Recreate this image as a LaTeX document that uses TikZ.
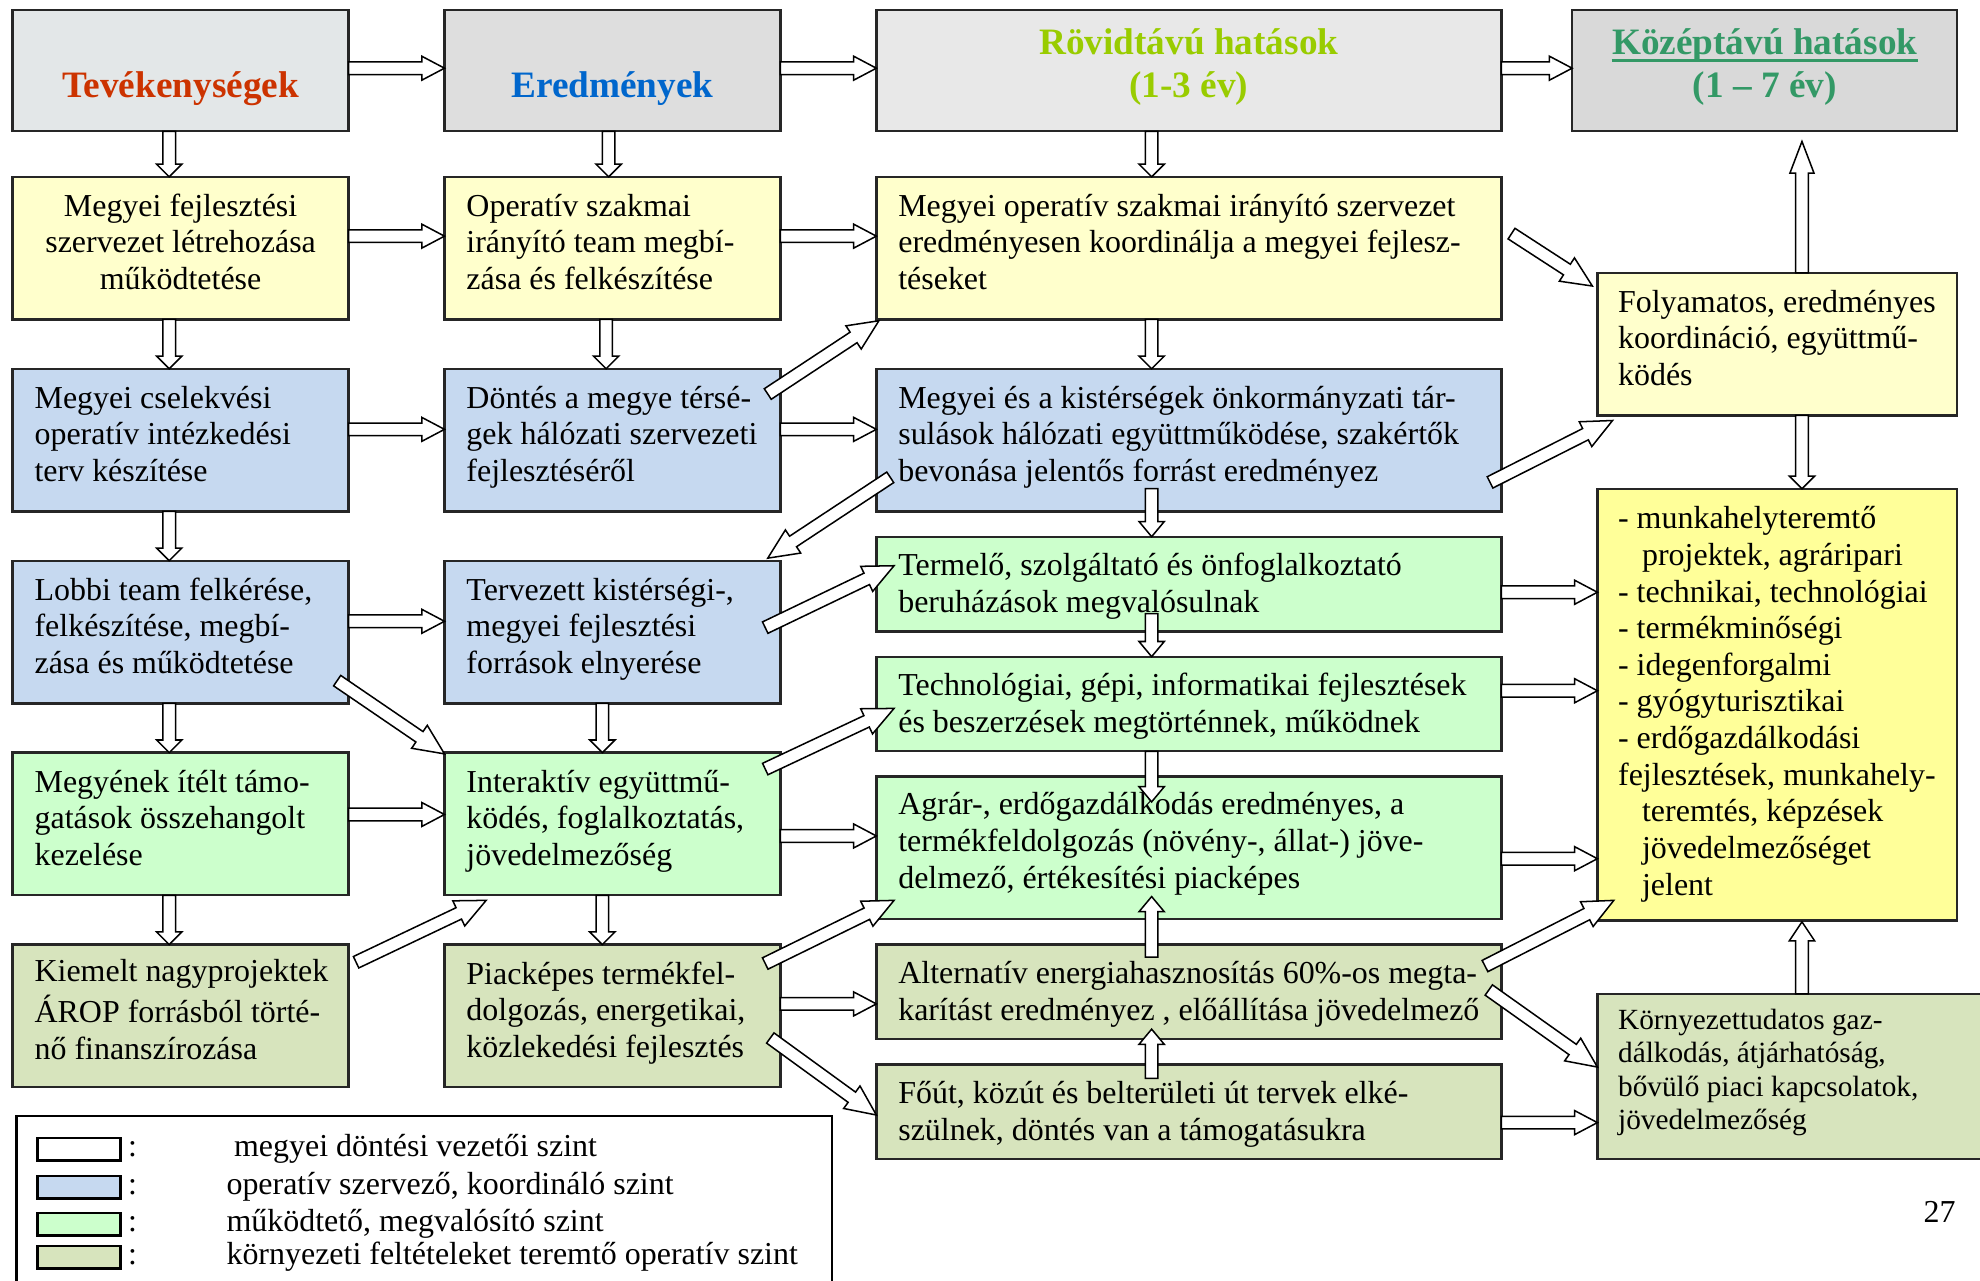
\documentclass[tikz,border=0pt]{standalone}
\usepackage{fontspec}
\setmainfont{Liberation Serif}
\usetikzlibrary{calc}

\definecolor{hdrA}{HTML}{E3E7E8}
\definecolor{hdrB}{HTML}{DEDEDE}
\definecolor{hdrC}{HTML}{E8E8E8}
\definecolor{hdrD}{HTML}{D9D9D9}
\definecolor{ylw}{HTML}{FFFFCC}
\definecolor{ylwB}{HTML}{FFFF99}
\definecolor{blu}{HTML}{C6D9F0}
\definecolor{grn}{HTML}{CCFFCC}
\definecolor{olv}{HTML}{D7E4BD}
\definecolor{tRed}{HTML}{CC3300}
\definecolor{tBlue}{HTML}{0066CC}
\definecolor{tLime}{HTML}{99CC00}
\definecolor{tGreen}{HTML}{339966}

\newcommand\bodyf{\fontsize{12.65pt}{14.5pt}\selectfont}
\newcommand\titlef{\fontsize{14.75pt}{17pt}\selectfont\bfseries}
\newcommand\smallf{\fontsize{11.6pt}{13.3pt}\selectfont}

\tikzset{
  box/.style={draw=black!85, line width=0.9pt, rectangle, outer sep=0pt, inner sep=0pt},
  colbox/.style={box, minimum width=133pt, minimum height=56.5pt},
  widebox/.style={box, minimum width=247.5pt, minimum height=56.5pt},
  slimbox/.style={box, minimum width=247.5pt, minimum height=37.5pt},
  rightbox/.style={box, minimum width=142.5pt},
  txt/.style={anchor=west, inner sep=0pt, align=left, font=\bodyf},
  ttl/.style={anchor=base, inner sep=0pt, font=\titlef},
  blockarrow/.style={draw=black, fill=white, line width=0.6pt, line join=miter},
  swatch/.style={draw=black, line width=0.9pt, minimum width=32.8pt, minimum height=9pt, inner sep=0pt}
}

\newcommand\blkarrow[5]{%
  \coordinate (ba-s) at (#1);
  \coordinate (ba-e) at (#2);
  \coordinate (ba-h) at ($(ba-e)!#5!(ba-s)$);
  \draw[blockarrow] ($(ba-s)!#3!90:(ba-e)$) -- ($(ba-h)!#3!90:(ba-e)$)
    -- ($(ba-h)!#4!90:(ba-e)$) -- (ba-e) -- ($(ba-h)!#4!-90:(ba-e)$)
    -- ($(ba-h)!#3!-90:(ba-e)$) -- ($(ba-s)!#3!-90:(ba-e)$) -- cycle;}
\newcommand\myH[3]{\blkarrow{#1.east |- 0,#3}{#2.west |- 0,#3}{2.5pt}{4.75pt}{9pt}}
\newcommand\myV[3]{\blkarrow{#1.south -| #3,0}{#2.north -| #3,0}{2.5pt}{5pt}{5pt}}
\newcommand\myVV[2]{\blkarrow{#1}{#2}{2.5pt}{5pt}{6pt}}
\newcommand\myD[2]{\blkarrow{#1}{#2}{2.5pt}{5.5pt}{12pt}}

\begin{document}
\begin{tikzpicture}[x=0.5pt,y=-0.5pt]
\useasboundingbox (0,0) rectangle (1568,1014);
\clip (0,0) rectangle (1568,1014);
\fill[white] (0,0) rectangle (1568,1014);

% header row
\node[box, fill=hdrA, minimum width=133pt, minimum height=48pt] (h1) at (143,56) {};
\node[box, fill=hdrB, minimum width=133pt, minimum height=48pt] (h2) at (485,56) {};
\node[box, fill=hdrC, minimum width=247.5pt, minimum height=48pt] (h3) at (941.5,56) {};
\node[box, fill=hdrD, minimum width=152.5pt, minimum height=48pt] (h4) at (1397.5,56) {};
\node[ttl, text=tRed] at (143,77) {Tevékenységek};
\node[ttl, text=tBlue] at (485,77) {Eredmények};
\node[ttl, text=tLime] at (941.5,43) {Rövidtávú hatások};
\node[ttl, text=tLime] at (941.5,77) {(1-3 év)};
\node[ttl, text=tGreen] (kt) at (1397.5,43) {Középtávú hatások};
\draw[tGreen, line width=1.1pt] (kt.base west |- 0,48) -- (kt.base east |- 0,48);
\node[ttl, text=tGreen] at (1397.5,77) {(1 – 7 év)};

% column 1
\node[colbox, fill=ylw] (a1) at (143,196.5) {};
\node[colbox, fill=blu] (a2) at (143,348.5) {};
\node[colbox, fill=blu] (a3) at (143,500.5) {};
\node[colbox, fill=grn] (a4) at (143,652.5) {};
\node[colbox, fill=olv] (a5) at (143,804.5) {};
% column 2
\node[colbox, fill=ylw] (b1) at (485,196.5) {};
\node[colbox, fill=blu] (b2) at (485,348.5) {};
\node[colbox, fill=blu] (b3) at (485,500.5) {};
\node[colbox, fill=grn] (b4) at (485,652.5) {};
\node[colbox, fill=olv] (b5) at (485,804.5) {};
% column 3
\node[widebox, fill=ylw] (c1) at (941.5,196.5) {};
\node[widebox, fill=blu] (c2) at (941.5,348.5) {};
\node[slimbox, fill=grn] (c3) at (941.5,462.5) {};
\node[slimbox, fill=grn] (c4) at (941.5,557.5) {};
\node[widebox, fill=grn] (c5) at (941.5,671.5) {};
\node[slimbox, fill=olv] (c6) at (941.5,785.5) {};
\node[slimbox, fill=olv] (c7) at (941.5,880.5) {};
% column 4
\node[rightbox, fill=ylw, minimum height=56.5pt] (fo) at (1407.5,272.5) {};
\node[rightbox, fill=ylwB, minimum height=171pt] (li) at (1407.5,558) {};
\node[box, fill=olv, minimum width=153.5pt, minimum height=65.5pt] (ko) at (1418.5,852.5) {};

% texts
\node[inner sep=0pt, align=center, font=\bodyf] at ($(a1.center)+(0,-2)$) {\strut Megyei fejlesztési\\szervezet létrehozása\\működtetése\strut};
\node[txt] at ($(a2.west)+(17,-2)$) {\strut Megyei cselekvési\\operatív intézkedési\\terv készítése\strut};
\node[txt] at ($(a3.west)+(17,-2)$) {\strut Lobbi team felkérése,\\felkészítése, megbí-\\zása és működtetése\strut};
\node[txt] at ($(a4.west)+(17,-2)$) {\strut Megyének ítélt támo-\\gatások összehangolt\\kezelése\strut};
\node[txt] at ($(a5.west)+(17,-2)$) {\strut Kiemelt nagyprojektek\\ÁROP forrásból törté-\\nő finanszírozása\strut};

\node[txt] at ($(b1.west)+(17,-2)$) {\strut Operatív szakmai\\irányító team megbí-\\zása és felkészítése\strut};
\node[txt] at ($(b2.west)+(17,-2)$) {\strut Döntés a megye térsé-\\gek hálózati szervezeti\\fejlesztéséről\strut};
\node[txt] at ($(b3.west)+(17,-2)$) {\strut Tervezett kistérségi-,\\megyei fejlesztési\\források elnyerése\strut};
\node[txt] at ($(b4.west)+(17,-2)$) {\strut Interaktív együttmű-\\ködés, foglalkoztatás,\\jövedelmezőség\strut};
\node[txt] at ($(b5.west)+(17,-2)$) {\strut Piacképes termékfel-\\dolgozás, energetikai,\\közlekedési fejlesztés\strut};

\node[txt] at ($(c1.west)+(17,-2)$) {\strut Megyei operatív szakmai irányító szervezet\\eredményesen koordinálja a megyei fejlesz-\\téseket\strut};
\node[txt] at ($(c2.west)+(17,-2)$) {\strut Megyei és a kistérségek önkormányzati tár-\\sulások hálózati együttműködése, szakértők\\bevonása jelentős forrást eredményez\strut};
\node[txt] at ($(c3.west)+(17,2)$) {\strut Termelő, szolgáltató és önfoglalkoztató\\beruházások megvalósulnak\strut};
\node[txt] at ($(c4.west)+(17,2)$) {\strut Technológiai, gépi, informatikai fejlesztések\\és beszerzések megtörténnek, működnek\strut};
\node[txt] at ($(c5.west)+(17,-3)$) {\strut Agrár-, erdőgazdálkodás eredményes, a\\termékfeldolgozás (növény-, állat-) jöve-\\delmező, értékesítési piacképes\strut};
\node[txt] at ($(c6.west)+(17,2)$) {\strut Alternatív energiahasznosítás 60\%-os megta-\\karítást eredményez , előállítása jövedelmező\strut};
\node[txt] at ($(c7.west)+(17,2)$) {\strut Főút, közút és belterületi út tervek elké-\\szülnek, döntés van a támogatásukra\strut};

\node[txt] at ($(fo.west)+(16,-2)$) {\strut Folyamatos, eredményes\\koordináció, együttmű-\\ködés\strut};
\node[txt] at ($(li.west)+(16,0)$) {\strut - munkahelyteremtő\\\hspace*{9.5pt}projektek, agráripari\\- technikai, technológiai\\- termékminőségi\\- idegenforgalmi\\- gyógyturisztikai\\- erdőgazdálkodási\\fejlesztések, munkahely-\\\hspace*{9.5pt}teremtés, képzések\\\hspace*{9.5pt}jövedelmezőséget\\\hspace*{9.5pt}jelent\strut};
\node[txt, font=\smallf] at ($(ko.west)+(16,-3)$) {\strut Környezettudatos gaz-\\dálkodás, átjárhatóság,\\bővülő piaci kapcsolatok,\\jövedelmezőség\strut};

% legend
\node[box, draw=black, fill=white, minimum width=323pt, minimum height=68.5pt] (leg) at (336,952) {};
\node[swatch, fill=white] (s1) at (62.6,910) {};
\node[swatch, fill=blu] (s2) at (62.6,940) {};
\node[swatch, fill=grn] (s3) at (62.6,969.5) {};
\node[swatch, fill=olv] (s4) at (62.6,995.5) {};
\node[txt] at (101,910) {:};
\node[txt] at (101,940) {:};
\node[txt] at (101,969.5) {:};
\node[txt] at (101,995.5) {:};
\node[txt] at (185,910) {megyei döntési vezetői szint};
\node[txt] at (179,940) {operatív szervező, koordináló szint};
\node[txt] at (179,969.5) {működtető, megvalósító szint};
\node[txt] at (179,995.5) {környezeti feltételeket teremtő operatív szint};

\node[inner sep=0pt, font=\bodyf] (pg) at (1536,960) {27};

% arrows: horizontal
\myH{h1}{h2}{54}
\myH{h2}{h3}{54}
\myH{h3}{h4}{54}
\myH{a1}{b1}{187}
\myH{b1}{c1}{187}
\myH{a2}{b2}{340}
\myH{b2}{c2}{340}
\myH{a3}{b3}{492}
\myH{a4}{b4}{645}
\myH{b4}{c5}{662}
\myH{b5}{c6}{795}
\myH{c3}{li}{469}
\myH{c4}{li}{547}
\myH{c5}{li}{680}
\myH{c7}{ko}{889}

% arrows: vertical
\myV{h1}{a1}{134}
\myV{h2}{b1}{482}
\myV{h3}{c1}{912}
\myV{a1}{a2}{134}
\myV{b1}{b2}{480}
\myV{c1}{c2}{912}
\myV{a2}{a3}{134}
\myV{a3}{a4}{134}
\myV{b3}{b4}{477}
\myV{a4}{a5}{134}
\myV{b4}{b5}{477}
\myV{fo}{li}{1427}
\myVV{$(c2.south -| 912,0)+(0,-18)$}{c3.north -| 912,0}
\myVV{$(c3.south -| 912,0)+(0,-14)$}{c4.north -| 912,0}
\myVV{c4.south -| 912,0}{$(c5.north -| 912,0)+(0,20)$}
\myVV{$(c6.north -| 912,0)+(0,10)$}{$(c5.south -| 912,0)+(0,-18)$}
\myVV{$(c7.north -| 912,0)+(0,11)$}{$(c6.south -| 912,0)+(0,-8)$}
\blkarrow{ko.north -| 1427,0}{$(li.south -| 1427,0)+(0,1)$}{2.5pt}{5pt}{7.5pt}
\blkarrow{fo.north -| 1427,0}{$(h4.south -| 1427,0)+(0,8)$}{2.5pt}{4.75pt}{12.5pt}

% arrows: diagonal
\myD{$(c1.east)+(8,-11.5)$}{$(fo.north west)+(-4,10.5)$}
\myD{$(b2.north east)+(-10,20)$}{$(c1.south west)+(2,1)$}
\myD{$(c2.west)+(11,29.5)$}{$(b3.north east)+(-10,-2)$}
\myD{$(c2.east)+(-9,33.5)$}{$(fo.south west)+(12,4)$}
\myD{$(b3.east)+(-12,-3.5)$}{$(c3.west)+(14,-14.5)$}
\myD{$(a3.south east)+(-9,-18)$}{$(b4.north west)+(0,1)$}
\myD{$(b4.north east)+(-12,13)$}{$(c4.west)+(14,3.5)$}
\myD{$(a5.north east)+(6,14)$}{$(b4.south west)+(33,4)$}
\myD{$(b5.north east)+(-12,15)$}{$(c5.south west)+(14,-15)$}
\myD{$(b5.east)+(-8,17.5)$}{$(c7.west)+(0,2.5)$}
\myD{$(c6.north east)+(-13,17)$}{$(li.south west)+(13,-16)$}
\myD{$(c6.east)+(-10,-1.5)$}{$(ko.west)+(0,-7.5)$}
\end{tikzpicture}
\end{document}
